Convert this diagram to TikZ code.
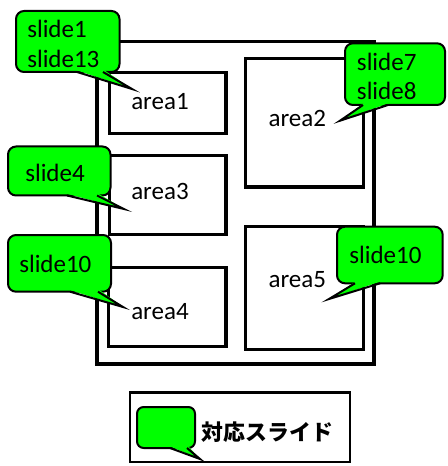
\documentclass[tikz,border=0pt]{standalone}
\usepackage{fontspec}
\setmainfont{Carlito}
\newfontfamily\jpfont{Noto Sans CJK JP}
\definecolor{cgreen}{HTML}{00FF00}
\begin{document}
\begin{tikzpicture}[x=0.75pt,y=-0.75pt,
  areabox/.style={draw, line width=2.3pt, inner sep=0pt},
  txt/.style={inner sep=0pt, anchor=base west, font=\fontsize{18.75}{22}\selectfont},
  cbox/.style={fill=cgreen, draw=black, line width=1.5pt, rounded corners=6pt},
  cfill/.style={fill=cgreen},
  cside/.style={draw=black, line width=1.5pt, line join=miter}]
\useasboundingbox (0,0) rectangle (447,466);
% outer frame and areas
\node[areabox, line width=2.6pt, minimum width=0.75pt*277, minimum height=0.75pt*322.5] (outer) at (235.5,202.75) {};
\node[areabox, minimum width=0.75pt*116.5, minimum height=0.75pt*61] (a1) at (167.75,103) {};
\node[areabox, minimum width=0.75pt*116.5, minimum height=0.75pt*79] (a3) at (167.75,195) {};
\node[areabox, minimum width=0.75pt*117.5, minimum height=0.75pt*79] (a4) at (167.25,307) {};
\node[areabox, minimum width=0.75pt*118.3, minimum height=0.75pt*128.3] (a2) at (304.2,122.85) {};
\node[areabox, minimum width=0.75pt*118.3, minimum height=0.75pt*122.6] (a5) at (304.2,288) {};
\node[txt] (ta1) at (131,110) {area1};
\node[txt] (ta3) at (131,199.3) {area3};
\node[txt] (ta4) at (131,319.3) {area4};
\node[txt] (ta2) at (268.3,126.7) {area2};
\node[txt] (ta5) at (268.3,287.7) {area5};
% callout 1
\coordinate (p1) at (132,89);
\draw[cbox] (16,11) rectangle (119.5,72);
\fill[cfill] (76,70) -- (p1) -- (104,70) -- cycle;
\draw[cside] (77,72) -- (p1) -- (103,72);
\node[txt] (s1a) at (27,38) {slide1};
\node[txt] (s1b) at (27,68) {slide13};
% callout 2
\coordinate (p2) at (124,209);
\draw[cbox] (8,146.5) rectangle (110.5,195.5);
\fill[cfill] (66,193.5) -- (p2) -- (98,193.5) -- cycle;
\draw[cside] (67,195.5) -- (p2) -- (97,195.5);
\node[txt] (s2) at (25,182) {slide4};
% callout 3
\coordinate (p3) at (123,307);
\draw[cbox] (8,235) rectangle (111,291.7);
\fill[cfill] (69,289.7) -- (p3) -- (99,289.7) -- cycle;
\draw[cside] (70,291.7) -- (p3) -- (98,291.7);
\node[txt] (s3) at (19,272) {slide10};
% callout 4
\coordinate (p4) at (340,120.7);
\draw[cbox] (345,43.3) rectangle (445,105);
\fill[cfill] (364,103) -- (p4) -- (389,103) -- cycle;
\draw[cside] (363,105) -- (p4) -- (388,105);
\node[txt] (s4a) at (356.7,70.7) {slide7};
\node[txt] (s4b) at (356.7,100) {slide8};
% callout 5
\coordinate (p5) at (329,299);
\draw[cbox] (337,226.7) rectangle (442.7,283.3);
\fill[cfill] (356,281.3) -- (p5) -- (381,281.3) -- cycle;
\draw[cside] (355,283.3) -- (p5) -- (380,283.3);
\node[txt] (s5) at (349,263.3) {slide10};
% legend
\node[areabox, line width=2pt, minimum width=0.75pt*220, minimum height=0.75pt*69.5] (leg) at (240,427.25) {};
\coordinate (pl) at (200,459);
\draw[cbox, rounded corners=5pt] (137,407) rectangle (195,448);
\fill[cfill] (169,446) -- (pl) -- (188,446) -- cycle;
\draw[cside] (170,448) -- (pl) -- (187,448);
\node[inner sep=0pt, anchor=west, font=\jpfont\bfseries\fontsize{16.4}{18}\selectfont] (lt) at (201.5,432) {対応スライド};
\end{tikzpicture}
\end{document}
